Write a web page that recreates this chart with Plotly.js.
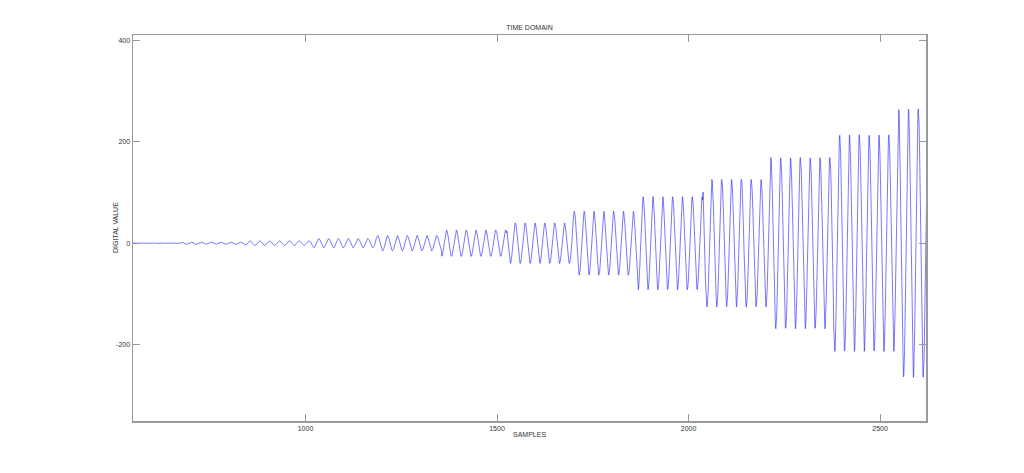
<!DOCTYPE html>
<html>
<head>
<meta charset="utf-8">
<script src="https://cdn.plot.ly/plotly-3.0.1.min.js"></script>
<style>html,body{margin:0;padding:0;background:#fff;}#chart{width:1024px;height:473px;}</style>
</head>
<body>
<div id="chart"></div>
<script>
// Values
const sampleFirst = 550;
const sampleLast = 2626;
// Start sample of each constant-amplitude tone burst
const blockStart = [550, 673.5, 844, 1014.5, 1185, 1355.5, 1526, 1696.5, 1867, 2037.5, 2208, 2378.5, 2549];
// Peak digital value of each burst
const blockAmp = [0.7, 2.3, 4.6, 9, 15, 26, 40, 63, 92, 126, 169, 214, 265];
// Tone period (samples) and the sample of a measured crest
const tonePeriod = [25.66];
const crestSample = [2215];
const xTickVals = [1000, 1500, 2000, 2500];
const yTickVals = [-200, 0, 200, 400];

const xs = [], ys = [];
for (let n = sampleFirst; n <= sampleLast; n++) {
  let k = 0;
  for (let b = 0; b < blockStart.length; b++) if (n >= blockStart[b]) k = b;
  xs.push(n);
  ys.push(blockAmp[k] * Math.cos(2 * Math.PI * (n - crestSample[0]) / tonePeriod[0]));
}

const font = {family: 'Liberation Sans, Arial, sans-serif', size: 7, color: '#333'};
const axisCommon = {
  showgrid: false, zeroline: false, showline: true, linecolor: '#9a9a9a', linewidth: 1.5,
  mirror: 'ticks', ticks: 'inside', ticklen: 7, tickcolor: '#9a9a9a', tickwidth: 1,
  tickfont: font
};

Plotly.newPlot('chart', [{
  x: xs, y: ys, type: 'scatter', mode: 'lines',
  line: {color: '#1f1fff', width: 0.6}, hoverinfo: 'skip'
}], {
  width: 1024, height: 473,
  margin: {l: 133, r: 98, t: 35, b: 52, pad: 0},
  paper_bgcolor: '#fff', plot_bgcolor: '#fff',
  showlegend: false,
  title: {text: 'TIME DOMAIN', font: font, x: 0.5, xref: 'paper', y: 1 - 28/473, yanchor: 'middle'},
  xaxis: Object.assign({}, axisCommon, {range: [549.7, 2620], tickvals: xTickVals, ticktext: xTickVals.map(String)}),
  yaxis: Object.assign({}, axisCommon, {range: [-351, 411], tickvals: yTickVals, ticktext: yTickVals.map(String)}),
  annotations: [
    {text: 'SAMPLES', xref: 'paper', yref: 'paper', x: 0.5, y: 0, yshift: -13, showarrow: false, font: font, xanchor: 'center', yanchor: 'middle'},
    {text: 'DIGITAL VALUE', xref: 'paper', yref: 'paper', x: 0, y: 0.5, xshift: -18, showarrow: false, font: font, textangle: -90, xanchor: 'center', yanchor: 'middle'}
  ]
}, {staticPlot: true, displayModeBar: false});
</script>
</body>
</html>
